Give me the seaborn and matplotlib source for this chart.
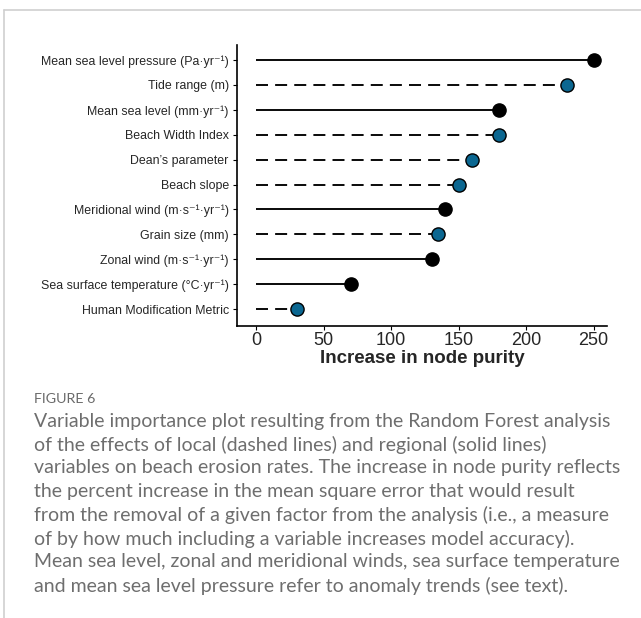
import numpy as np
import pandas as pd
import matplotlib
matplotlib.use("Agg")
import matplotlib.pyplot as plt
import seaborn as sns
from matplotlib.lines import Line2D

# Variable importance from the Random Forest model
variables = [
    "Mean sea level pressure (Pa·yr⁻¹)",
    "Tide range (m)",
    "Mean sea level (mm·yr⁻¹)",
    "Beach Width Index",
    "Dean’s parameter",
    "Beach slope",
    "Meridional wind (m·s⁻¹·yr⁻¹)",
    "Grain size (mm)",
    "Zonal wind (m·s⁻¹·yr⁻¹)",
    "Sea surface temperature (°C·yr⁻¹)",
    "Human Modification Metric",
]
node_purity = [250, 230, 180, 180, 160, 150, 140, 135, 130, 70, 30]
scale = ["regional", "local", "regional", "local", "local", "local",
         "regional", "local", "regional", "regional", "local"]
x_ticks = [0, 50, 100, 150, 200, 250]

df = pd.DataFrame({"variable": variables, "purity": node_purity, "scale": scale})

sns.set_theme(style="white")
plt.rcParams["font.family"] = ["Liberation Sans", "DejaVu Sans"]

fig = plt.figure(figsize=(6.41, 6.18), dpi=100)
ax = fig.add_axes([0.370, 0.4725, 0.577, 0.4545])

# stems: solid for regional, dashed for local variables
for i, row in df.iterrows():
    ls = (0, (6.4, 3.8)) if row["scale"] == "local" else "-"
    ax.plot([0, row["purity"]], [i, i], color="black", lw=1.35,
            linestyle=ls, zorder=1, solid_capstyle="butt", dash_capstyle="butt")

sns.stripplot(data=df, x="purity", y="variable", hue="scale",
              palette={"regional": "black", "local": "#0b6791"},
              order=variables, jitter=False, size=9.5, linewidth=1,
              edgecolor="black", legend=False, ax=ax, zorder=3)

ax.set_xlim(-14, 260)
ax.set_ylim(len(variables) - 1 + 0.68, -0.6)
ax.set_xticks(x_ticks)
ax.set_xticklabels([str(t) for t in x_ticks], fontsize=13)
ax.tick_params(axis="y", labelsize=8.9, length=3, width=0.8, color="black",
               left=True, pad=3)
ax.tick_params(axis="x", length=3, width=0.8, color="black", bottom=True, pad=1)
ax.set_ylabel("")
ax.set_xlabel("Increase in node purity", fontsize=13.5, fontweight="bold", labelpad=1)
for side in ["top", "right"]:
    ax.spines[side].set_visible(False)
for side in ["left", "bottom"]:
    ax.spines[side].set_color("black")
    ax.spines[side].set_linewidth(1.2)

# page frame lines
fig.add_artist(Line2D([4 / 641, 1], [1 - 10 / 618, 1 - 10 / 618],
                      color="#cfcfcf", lw=1.2, transform=fig.transFigure))
fig.add_artist(Line2D([4 / 641, 4 / 641], [0, 1 - 10 / 618],
                      color="#cfcfcf", lw=1.2, transform=fig.transFigure))

caption_lines = [
    "Variable importance plot resulting from the Random Forest analysis",
    "of the effects of local (dashed lines) and regional (solid lines)",
    "variables on beach erosion rates. The increase in node purity reflects",
    "the percent increase in the mean square error that would result",
    "from the removal of a given factor from the analysis (i.e., a measure",
    "of by how much including a variable increases model accuracy).",
    "Mean sea level, zonal and meridional winds, sea surface temperature",
    "and mean sea level pressure refer to anomaly trends (see text).",
]
fig.text(34 / 641, 1 - 399 / 618, "FIGURE 6", fontsize=10.3, color="#6a6a6a",
         family="Lato", va="center", ha="left")
for k, line in enumerate(caption_lines):
    y = 421 + k * 23.5
    fig.text(34 / 641, 1 - y / 618, line, fontsize=14, color="#6e6e6e",
             family="Lato", va="center", ha="left")

fig.savefig("out.png", dpi=100)
